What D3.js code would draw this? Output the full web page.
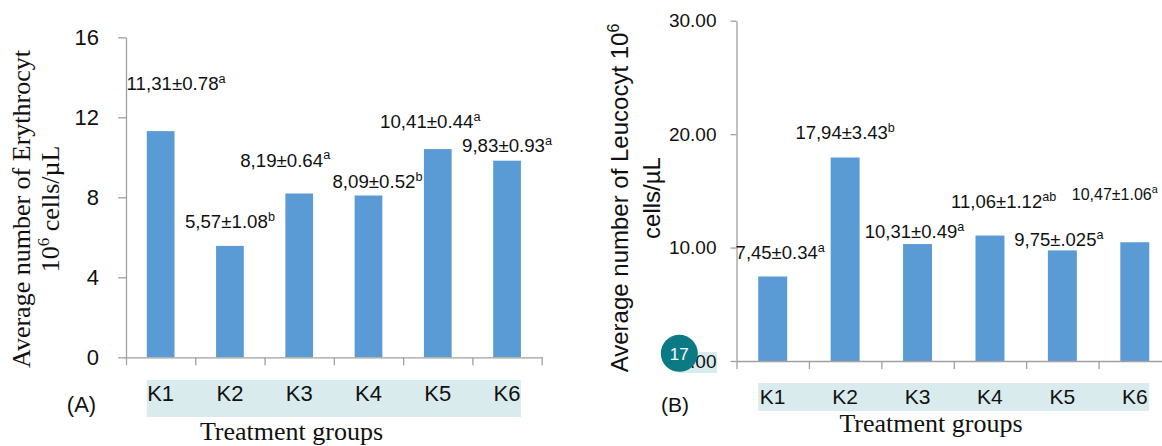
<!DOCTYPE html>
<html>
<head>
<meta charset="utf-8">
<script src="https://cdn.jsdelivr.net/npm/d3@7"></script>
<style>
  body { margin: 0; background: #fff; }
  svg { display: block; }
  .axis path, .axis line { stroke: #a0a0a0; stroke-width: 1.3; }
</style>
</head>
<body>
<script>
    // chart values
    var groups = ["K1", "K2", "K3", "K4", "K5", "K6"];

    var erythrocyte = [11.31, 5.57, 8.19, 8.09, 10.41, 9.83];
    var erythrocyteLabels = ["11,31±0.78", "5,57±1.08", "8,19±0.64", "8,09±0.52", "10,41±0.44", "9,83±0.93"];
    var erythrocyteSup = ["a", "b", "a", "b", "a", "a"];
    var erythrocyteTicks = [0, 4, 8, 12, 16];

    var leucocyte = [7.45, 17.94, 10.31, 11.06, 9.75, 10.47];
    var leucocyteLabels = ["7,45±0.34", "17,94±3.43", "10,31±0.49", "11,06±1.12", "9,75±.025", "10,47±1.06"];
    var leucocyteSup = ["a", "b", "a", "ab", "a", "a"];
    var leucocyteTicks = [0, 10, 20, 30];

    // hand placement of the data labels (dx from bar centre, dy of baseline from bar top)
    var nudgeA = [[15.5, -41], [0, -18], [-14, -27], [9, -7.5], [-7.5, -21], [0, -8.3]];
    var nudgeB = [[7.5, -17.4], [0, -18.4], [-3, -5.7], [13.7, -27.4], [-3.5, -4], [-20, -42.7]];

    var SANS = "Liberation Sans, Arial, sans-serif";
    var SERIF = "Liberation Serif, Times New Roman, serif";

    var svg = d3.select("body").append("svg")
      .attr("width", 1162)
      .attr("height", 446);

    function drawPanel(p) {
      var g = svg.append("g");

      var x = d3.scaleBand()
        .domain(groups)
        .range([p.left, p.right])
        .paddingInner(0.6)
        .paddingOuter(0.3);
      // category boundaries for the tick marks
      var xb = d3.scaleLinear().domain([0, groups.length]).range([p.left, p.right]);
      var y = d3.scaleLinear().domain([0, p.max]).range([p.bottom, p.top]);

      //category band behind K labels
      g.append("rect")
        .attr("x", x(groups[0]))
        .attr("y", p.bandY)
        .attr("width", x(groups[groups.length - 1]) + x.bandwidth() - x(groups[0]))
        .attr("height", p.bandH)
        .attr("fill", "#daebee");

      //bars
      g.selectAll(".bar")
        .data(p.values)
        .enter().append("rect")
        .attr("x", function(d, i) { return x(groups[i]); })
        .attr("y", function(d) { return y(d); })
        .attr("width", x.bandwidth())
        .attr("height", function(d) { return p.bottom - y(d); })
        .attr("fill", "#5b9bd5");

      //y axis
      var ya = g.append("g")
        .attr("class", "axis")
        .attr("transform", "translate(" + p.left + ",0)")
        .call(d3.axisLeft(y)
          .tickValues(p.ticks)
          .tickSize(p.yTick)
          .tickSizeOuter(0)
          .tickPadding(p.yPad)
          .tickFormat(p.fmt));
      ya.attr("font-family", SANS).attr("font-size", p.tickFont);
      ya.selectAll("text").attr("fill", "#111");

      //x axis with ticks on the boundaries
      g.append("g")
        .attr("class", "axis")
        .attr("transform", "translate(0," + p.bottom + ")")
        .call(d3.axisBottom(xb)
          .tickValues(d3.range(groups.length + 1))
          .tickSize(8)
          .tickSizeOuter(0)
          .tickFormat(""));

      //K labels
      g.selectAll(".klabel")
        .data(groups)
        .enter().append("text")
        .attr("font-family", SANS)
        .attr("fill", "#111")
        .attr("x", function(d) { return x(d) + x.bandwidth() / 2; })
        .attr("y", p.kY)
        .attr("text-anchor", "middle")
        .attr("font-size", p.kFont)
        .text(function(d) { return d; });

      //data labels
      var lab = g.selectAll(".dlabel")
        .data(p.values)
        .enter().append("text")
        .attr("font-family", SANS)
        .attr("fill", "#111")
        .attr("text-anchor", "middle")
        .attr("font-size", function(d, i) { return p.labelFont[i] + "px"; })
        .attr("x", function(d, i) { return x(groups[i]) + x.bandwidth() / 2 + p.nudge[i][0]; })
        .attr("y", function(d, i) { return y(d) + p.nudge[i][1]; });
      lab.append("tspan")
        .text(function(d, i) { return p.labels[i]; });
      lab.append("tspan")
        .attr("font-size", function(d, i) { return (p.labelFont[i] * 0.68) + "px"; })
        .attr("dy", function(d, i) { return -p.labelFont[i] * 0.38; })
        .text(function(d, i) { return p.sup[i]; });

      //panel letter
      g.append("text")
        .attr("font-family", SANS)
        .attr("fill", "#111")
        .attr("x", p.letterX)
        .attr("y", p.letterY)
        .attr("text-anchor", "middle")
        .attr("font-size", p.kFont)
        .text(p.letter);

      //x title
      g.append("text")
        .attr("font-family", SERIF)
        .attr("fill", "#111")
        .attr("x", p.xTitleX)
        .attr("y", p.xTitleY)
        .attr("text-anchor", "middle")
        .attr("font-size", 26)
        .text("Treatment groups");

      return { g: g, x: x, y: y };
    }

    var a = drawPanel({
      left: 126, right: 541.7, top: 37.3, bottom: 357.3, max: 16,
      values: erythrocyte, labels: erythrocyteLabels, sup: erythrocyteSup,
      ticks: erythrocyteTicks, fmt: d3.format("d"),
      yTick: 8, yPad: 19, tickFont: 22,
      bandY: 380, bandH: 37, kY: 401, kFont: 22,
      nudge: nudgeA, labelFont: [18.7, 18.7, 18.7, 18.7, 18.7, 18.7],
      letter: "(A)", letterX: 81.5, letterY: 411.5,
      xTitleX: 291.5, xTitleY: 440
    });

    var b = drawPanel({
      left: 736.5, right: 1171, top: 20.7, bottom: 361, max: 30,
      values: leucocyte, labels: leucocyteLabels, sup: leucocyteSup,
      ticks: leucocyteTicks, fmt: d3.format(".2f"),
      yTick: 6, yPad: 14, tickFont: 19,
      bandY: 383, bandH: 28, kY: 404, kFont: 21,
      nudge: nudgeB, labelFont: [18.5, 18.5, 18.5, 18.5, 18.5, 16],
      letter: "(B)", letterX: 675, letterY: 411.5,
      xTitleX: 931, xTitleY: 432
    });

    //y title A (serif, two lines)
    var ta = svg.append("text")
      .attr("font-family", SERIF)
      .attr("fill", "#111")
      .attr("font-size", 26)
      .attr("text-anchor", "middle")
      .attr("transform", "translate(30,209) rotate(-90)");
    ta.append("tspan").attr("x", 0).attr("y", 0).text("Average number of Erythrocyt");
    ta.append("tspan").attr("x", 0).attr("y", 29).text("10");
    ta.append("tspan").attr("font-size", 17).attr("dy", -10).text("6");
    ta.append("tspan").attr("dy", 10).text(" cells/µL");

    //y title B (sans, two lines)
    var tb = svg.append("text")
      .attr("font-family", SANS)
      .attr("fill", "#111")
      .attr("font-size", 24)
      .attr("text-anchor", "middle")
      .attr("transform", "translate(628,198) rotate(-90)");
    tb.append("tspan").attr("x", 0).attr("y", 0).text("Average number of Leucocyt 10");
    tb.append("tspan").attr("font-size", 16).attr("dy", -9).text("6");
    tb.append("tspan").attr("x", 0).attr("y", 32).text("cells/µL");

    //page badge sitting over the 0.00 label
    b.g.insert("rect", ".axis")
      .attr("x", 678).attr("y", 352)
      .attr("width", 39).attr("height", 21)
      .attr("fill", "#daebee");
    svg.append("circle")
      .attr("cx", 679.3).attr("cy", 353.3).attr("r", 18.5)
      .attr("fill", "#0b7a85");
    svg.append("text")
      .attr("x", 679.3).attr("y", 359.5)
      .attr("text-anchor", "middle")
      .attr("font-family", SANS)
      .attr("font-size", 17)
      .attr("fill", "#fff")
      .text("17");
</script>
</body>
</html>
